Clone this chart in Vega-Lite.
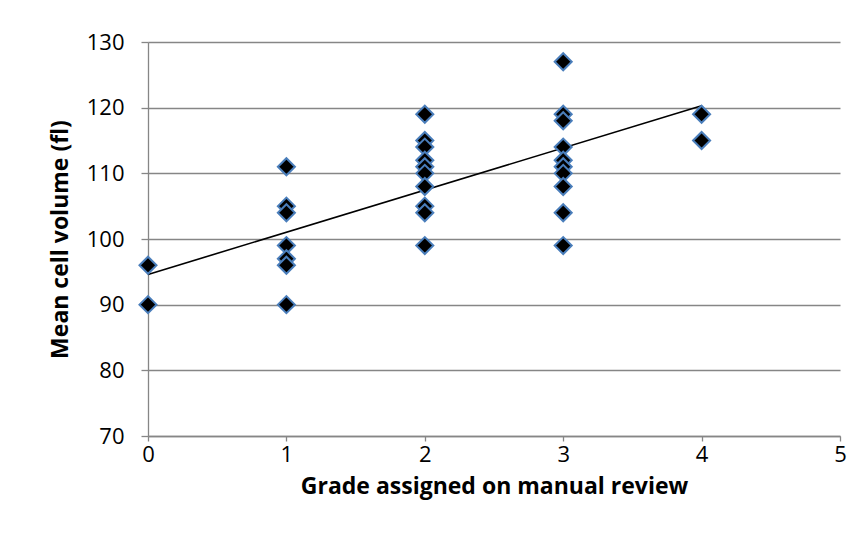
{
  "$schema": "https://vega.github.io/schema/vega-lite/v6.json",
  "width": 692,
  "height": 394,
  "autosize": {"type": "none"},
  "padding": {"left": 148, "top": 42, "right": 22, "bottom": 116},
  "background": "white",
  "config": {
    "view": {"stroke": null},
    "font": "Open Sans",
    "axis": {
      "labelFont": "Open Sans",
      "labelFontSize": 22,
      "labelColor": "#000000",
      "titleFont": "Open Sans",
      "titleFontWeight": "bold",
      "titleFontSize": 23,
      "titleColor": "#000000",
      "domainColor": "#868686",
      "tickColor": "#868686",
      "gridColor": "#868686",
      "domainWidth": 1.3,
      "tickWidth": 1.3,
      "gridWidth": 1.3
    }
  },
  "datasets": {
    "points": [
      {"grade": 0, "mcv": 96}, {"grade": 0, "mcv": 90},
      {"grade": 1, "mcv": 111}, {"grade": 1, "mcv": 105}, {"grade": 1, "mcv": 104},
      {"grade": 1, "mcv": 99}, {"grade": 1, "mcv": 97}, {"grade": 1, "mcv": 96},
      {"grade": 1, "mcv": 90},
      {"grade": 2, "mcv": 119}, {"grade": 2, "mcv": 115}, {"grade": 2, "mcv": 114},
      {"grade": 2, "mcv": 112}, {"grade": 2, "mcv": 111}, {"grade": 2, "mcv": 110},
      {"grade": 2, "mcv": 108}, {"grade": 2, "mcv": 105}, {"grade": 2, "mcv": 104},
      {"grade": 2, "mcv": 99},
      {"grade": 3, "mcv": 127}, {"grade": 3, "mcv": 119}, {"grade": 3, "mcv": 118},
      {"grade": 3, "mcv": 114}, {"grade": 3, "mcv": 112}, {"grade": 3, "mcv": 111},
      {"grade": 3, "mcv": 110}, {"grade": 3, "mcv": 108}, {"grade": 3, "mcv": 104},
      {"grade": 3, "mcv": 99},
      {"grade": 4, "mcv": 119}, {"grade": 4, "mcv": 115}
    ],
    "trend": [
      {"grade": 0, "mcv": 94.6},
      {"grade": 4, "mcv": 120.3}
    ]
  },
  "layer": [
    {
      "data": {"name": "trend"},
      "mark": {"type": "line", "color": "#000000", "strokeWidth": 1.6},
      "encoding": {
        "x": {
          "field": "grade", "type": "quantitative",
          "scale": {"domain": [0, 5], "nice": false, "zero": false},
          "axis": {
            "title": "Grade assigned on manual review",
            "values": [0, 1, 2, 3, 4, 5],
            "format": "d",
            "grid": false,
            "tickSize": 5,
            "labelPadding": 3,
            "labelFlush": false,
            "titleX": 346,
            "titleY": 50,
            "titleBaseline": "middle"
          }
        },
        "y": {
          "field": "mcv", "type": "quantitative",
          "scale": {"domain": [70, 130], "nice": false, "zero": false},
          "axis": {
            "title": "Mean cell volume (fl)",
            "values": [70, 80, 90, 100, 110, 120, 130],
            "grid": true,
            "tickSize": 7,
            "labelPadding": 17,
            "labelFlush": false,
            "titleAngle": -90,
            "titleX": -88,
            "titleY": 197,
            "titleAlign": "center",
            "titleBaseline": "middle"
          }
        }
      }
    },
    {
      "data": {"name": "points"},
      "mark": {
        "type": "point",
        "shape": "diamond",
        "filled": true,
        "fill": "#000000",
        "fillOpacity": 1,
        "stroke": "#4a7ebb",
        "strokeWidth": 2,
        "size": 290,
        "clip": false
      },
      "encoding": {
        "x": {"field": "grade", "type": "quantitative"},
        "y": {"field": "mcv", "type": "quantitative"}
      }
    }
  ]
}
